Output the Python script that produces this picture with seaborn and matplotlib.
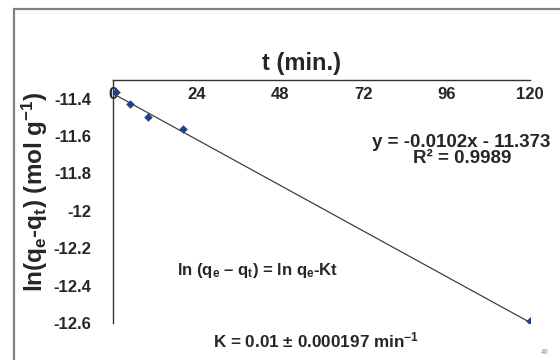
import numpy as np
import pandas as pd
import seaborn as sns
import matplotlib.pyplot as plt
from matplotlib.patches import Rectangle
from matplotlib.ticker import MultipleLocator

# data
t_min = [1, 5, 10, 20, 120]
ln_qe_qt = [-11.365, -11.429, -11.498, -11.562, -12.588]

# linear trendline printed on the chart
slope = -0.0102
intercept = -11.373
fit_t = [0, 120]

x_ticks = [0, 24, 48, 72, 96, 120]
y_ticks = [-12.6, -12.4, -12.2, -12.0, -11.8, -11.6, -11.4]
y_tick_labels = ['-12.6', '-12.4', '-12.2', '-12', '-11.8', '-11.6', '-11.4']

df = pd.DataFrame({'t': t_min, 'y': ln_qe_qt})
df_fit = pd.DataFrame({'t': fit_t, 'y': [slope * t + intercept for t in fit_t]})

sns.set_style('white')
plt.rcParams['font.family'] = ['Liberation Sans', 'DejaVu Sans']
plt.rcParams['font.weight'] = 'bold'
plt.rcParams['mathtext.fontset'] = 'custom'
plt.rcParams['mathtext.rm'] = 'Liberation Sans:bold'
plt.rcParams['mathtext.it'] = 'Liberation Sans:bold'
plt.rcParams['mathtext.default'] = 'rm'

fig = plt.figure(figsize=(5.6, 3.6), dpi=100)
ax = fig.add_axes([0.2018, 0.1028, 0.7446, 0.675])

# outer frame
fig.patches.append(Rectangle((0.025, -0.1), 1.1, 1.075, transform=fig.transFigure,
                             fill=False, edgecolor='#808080', linewidth=1.6))

sns.lineplot(data=df_fit, x='t', y='y', color='#404040', linewidth=0.9, ax=ax)
sns.scatterplot(data=df, x='t', y='y', marker='D', s=16, color='#1f3f8f',
                edgecolor='#1f3f8f', zorder=3, ax=ax)

ax.set_xlim(0, 120)
ax.set_ylim(-12.6, -11.3)

# x axis sits at the top of the plot, labels beneath the line
ax.spines['top'].set_visible(False)
ax.spines['right'].set_visible(False)
ax.spines['bottom'].set_position(('data', -11.3))
for s in ['left', 'bottom']:
    ax.spines[s].set_color('#333333')
    ax.spines[s].set_linewidth(1.0)

ax.set_xticks(x_ticks)
ax.set_xticklabels([str(v) for v in x_ticks])
ax.xaxis.set_minor_locator(MultipleLocator(12))
ax.set_yticks(y_ticks)
ax.set_yticklabels(y_tick_labels)
ax.yaxis.set_minor_locator(MultipleLocator(0.04))

# 'in' on the bottom spine points up, i.e. above the top line
ax.tick_params(axis='x', which='major', direction='in', length=5, width=1,
               color='#333333', labelsize=12, pad=5)
ax.tick_params(axis='x', which='minor', direction='in', length=3, width=1, color='#333333')
ax.tick_params(axis='y', which='major', direction='inout', length=7, width=1,
               color='#333333', labelsize=12, pad=12)
ax.tick_params(axis='y', which='minor', direction='in', length=3, width=1, color='#333333')
for lab in ax.get_xticklabels() + ax.get_yticklabels():
    lab.set_fontweight('bold')

ax.set_xlabel('')
ax.set_ylabel(r'ln(q$_{e}$-q$_{t}$) (mol g$^{-1}$)', fontsize=17.5, fontweight='bold')
ax.yaxis.set_label_coords(-0.152, 0.54)
ax.text(0.453, 1.066, 't (min.)', transform=ax.transAxes, fontsize=17,
        fontweight='bold', ha='center', va='center')

ax.text(0.835, 0.741, 'y = -0.0102x - 11.373', transform=ax.transAxes, fontsize=13.5,
        fontweight='bold', ha='center', va='center')
ax.text(0.837, 0.675, 'R² = 0.9989', transform=ax.transAxes, fontsize=13.5,
        fontweight='bold', ha='center', va='center')
ax.text(0.153, 0.218, 'ln (q$_{e}$ – q$_{t}$) = ln q$_{e}$-Kt', transform=ax.transAxes,
        fontsize=12, fontweight='bold', ha='left', va='center')
ax.text(0.24, -0.07, 'K = 0.01 ± 0.000197 min$^{-1}$', transform=ax.transAxes,
        fontsize=12.3, fontweight='bold', ha='left', va='center')
fig.text(0.973, 0.01, '40', fontsize=5, color='#aaaaaa', ha='center', va='bottom')

fig.savefig('out.png', dpi=100)
